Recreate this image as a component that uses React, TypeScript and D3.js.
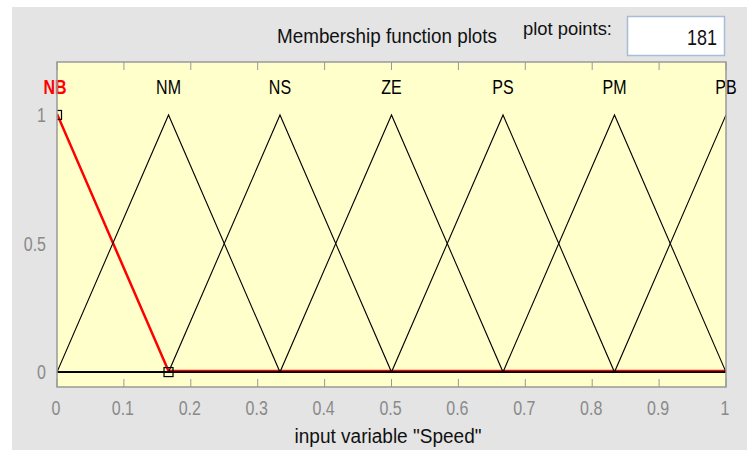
import React from 'react';
import * as d3 from 'd3';

// membership functions of input "Speed" (trimf params a, b, c)
const mfNames = ['NB', 'NM', 'NS', 'ZE', 'PS', 'PM', 'PB'];
const mfParams: [number, number, number][] = [
  [-0.1667, 0, 0.1667],
  [0, 0.1667, 0.3333],
  [0.1667, 0.3333, 0.5],
  [0.3333, 0.5, 0.6667],
  [0.5, 0.6667, 0.8333],
  [0.6667, 0.8333, 1],
  [0.8333, 1, 1.1667],
];
const selectedMf = 0;
const xTicks = [0, 0.1, 0.2, 0.3, 0.4, 0.5, 0.6, 0.7, 0.8, 0.9, 1];
const yTicks = [0, 0.5, 1];
const plotPoints = 181;

const W = 747;
const H = 450;
const box = { left: 57, right: 726, top: 62, bottom: 387 };
const font = '"Liberation Sans", Arial, sans-serif';

const trimf = (x: number, [a, b, c]: [number, number, number]) => {
  if (x <= a || x >= c) return x === b ? 1 : 0;
  return x <= b ? (x - a) / (b - a) : (c - x) / (c - b);
};

// MATLAB's UI font is narrow and tall, so stretch text vertically
interface TxtProps {
  x: number;
  y: number;
  size?: number;
  sy?: number;
  anchor?: 'start' | 'middle' | 'end';
  fill?: string;
  bold?: boolean;
  len?: number;
  children: React.ReactNode;
}
const Txt: React.FC<TxtProps> = ({ x, y, size = 16, sy = 1.3, anchor = 'start', fill = '#111', bold, len, children }) => (
  <text transform={`translate(${x},${y}) scale(1,${sy})`} textAnchor={anchor} fontFamily={font}
    fontSize={size} fill={fill} fontWeight={bold ? 'bold' : 'normal'}
    textLength={len} lengthAdjust={len ? 'spacingAndGlyphs' : undefined}>{children}</text>
);

const App: React.FC = () => {
  const x = d3.scaleLinear().domain([0, 1]).range([box.left, box.right]);
  const y = d3.scaleLinear().domain([-0.058, 1.206]).range([box.bottom, box.top]);

  const line = d3.line<[number, number]>()
    .x(d => x(d[0]))
    .y(d => y(d[1]));

  const mfPoints = (p: [number, number, number]): [number, number][] => {
    const xs = Array.from(new Set([0, ...p.filter(v => v >= 0 && v <= 1), 1])).sort((a, b) => a - b);
    return xs.map(v => [v, trimf(v, p)]);
  };

  const sel = mfParams[selectedMf];
  const markers: [number, number][] = [[sel[1], 1], [sel[2], 0]];

  return (
    <div style={{ position: 'absolute', left: 0, top: 0 }}>
      <svg width={W} height={H} style={{ display: 'block', background: '#fff' }}>
        <defs>
          <clipPath id="plotClip">
            <rect x={box.left} y={box.top} width={box.right - box.left} height={box.bottom - box.top} />
          </clipPath>
        </defs>
        <rect x={12} y={7} width={W - 12} height={H - 7} fill="#e4e4e4" />

        <Txt x={277} y={43} len={220}>Membership function plots</Txt>
        <Txt x={523} y={35} len={89} sy={1.2}>plot points:</Txt>
        <rect x={627.5} y={16.5} width={97} height={39} fill="#fff" stroke="#a6bcd8" strokeWidth={1.5} />
        <Txt x={717} y={45} anchor="end" size={17} len={30}>{plotPoints}</Txt>

        <rect x={box.left} y={box.top} width={box.right - box.left} height={box.bottom - box.top}
          fill="#ffffcc" />

        {xTicks.map(t => (
          <g key={t}>
            <line x1={x(t)} x2={x(t)} y1={box.bottom} y2={box.bottom - 8} stroke="#999" />
            <line x1={x(t)} x2={x(t)} y1={box.top} y2={box.top + 8} stroke="#999" />
            <Txt x={x(t) - 1} y={415} anchor="middle" fill="#8a8a8a">{t}</Txt>
          </g>
        ))}
        {yTicks.map(t => (
          <Txt key={t} x={46} y={y(t) + 7} anchor="end" fill="#8a8a8a">{t}</Txt>
        ))}

        <g clipPath="url(#plotClip)">
          <path d={line(mfPoints(sel)) || ''} transform="translate(0,-1)" fill="none" stroke="#ff0000" strokeWidth={2.5} />
          {mfParams.map((p, i) => i === selectedMf ? null : (
            <path key={i} d={line(mfPoints(p)) || ''} fill="none" stroke="#000" strokeWidth={1.1} />
          ))}
          {markers.map((m, i) => (
            <rect key={i} x={x(m[0]) - 4.5} y={y(m[1]) - 4.5} width={9} height={9} fill="none" stroke="#000" strokeWidth={1.2} />
          ))}
        </g>

        {mfNames.map((n, i) => (
          <Txt key={n} x={i === selectedMf ? x(mfParams[i][1]) - 2 : x(mfParams[i][1])} y={94}
            anchor="middle" sy={1.25} bold={i === selectedMf}
            fill={i === selectedMf ? '#ff0000' : '#000'}>{n}</Txt>
        ))}

        <rect x={box.left} y={box.top} width={box.right - box.left} height={box.bottom - box.top}
          fill="none" stroke="#999" strokeWidth={1.5} />

        <Txt x={388} y={443} anchor="middle" len={187}>input variable "Speed"</Txt>
      </svg>
    </div>
  );
};

export default App;
